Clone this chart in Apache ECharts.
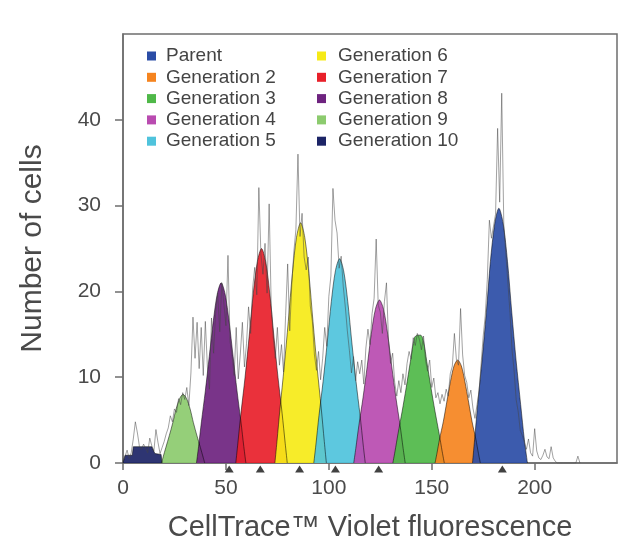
<!DOCTYPE html>
<html>
<head>
<meta charset="utf-8">
<script src="https://cdn.jsdelivr.net/npm/echarts@6/dist/echarts.min.js"></script>
<style>
  html, body { margin: 0; padding: 0; background: #fff; }
  #chart { width: 623px; height: 550px; }
</style>
</head>
<body>
<div id="chart"></div>
<script>
// legend / series names, left column then right column
const namesLeft = ['Parent', 'Generation 2', 'Generation 3', 'Generation 4', 'Generation 5']
const namesRight = ['Generation 6', 'Generation 7', 'Generation 8', 'Generation 9', 'Generation 10']

const peakColors = {
  'Parent': '#2b4da6',
  'Generation 2': '#f5841f',
  'Generation 3': '#4fb848',
  'Generation 4': '#b94bb0',
  'Generation 5': '#4fc3dc',
  'Generation 6': '#f6ea17',
  'Generation 7': '#e8202a',
  'Generation 8': '#6e237f',
  'Generation 9': '#8ccb6e',
  'Generation 10': '#1c2466'
}

// fitted generation peaks, [fluorescence, cells]
const gen10 = [[0, 0], [1, 0.9], [4.5, 0.9], [5, 1.9], [14, 1.9], [15.5, 1.1], [18.5, 1], [19, 0]]
const gen9 = [[18.7, 0], [19.5, 0.7], [20.8, 1.8], [22.5, 3.2], [24.2, 4.7], [25.8, 6.3], [27.5, 7.5], [29.2, 8],
  [30.9, 7.5], [32.6, 6.3], [34.2, 4.7], [35.9, 3.2], [37.6, 1.8], [38.9, 0.7], [39.7, 0]]
const gen8 = [[35.7, 0], [36.7, 1.9], [38.1, 4.8], [40, 8.4], [41.9, 12.4], [43.9, 16.6], [45.8, 19.7], [47.7, 21],
  [49.6, 19.7], [51.5, 16.6], [53.5, 12.4], [55.4, 8.4], [57.3, 4.8], [58.7, 1.9], [59.7, 0]]
const gen7 = [[54.8, 0], [55.8, 2.3], [57.3, 5.8], [59.3, 10], [61.3, 14.8], [63.3, 19.8], [65.3, 23.5], [67.3, 25],
  [69.3, 23.5], [71.3, 19.8], [73.3, 14.8], [75.3, 10], [77.3, 5.8], [78.8, 2.3], [79.8, 0]]
const gen6 = [[73.8, 0], [74.8, 2.5], [76.3, 6.4], [78.3, 11.2], [80.3, 16.5], [82.3, 22.1], [84.3, 26.3], [86.3, 28],
  [88.3, 26.3], [90.3, 22.1], [92.3, 16.5], [94.3, 11.2], [96.3, 6.4], [97.8, 2.5], [98.8, 0]]
const gen5 = [[92.7, 0], [93.7, 2.1], [95.2, 5.5], [97.2, 9.5], [99.2, 14], [101.2, 18.8], [103.2, 22.4], [105.2, 23.8],
  [107.2, 22.4], [109.2, 18.8], [111.2, 14], [113.2, 9.5], [115.2, 5.5], [116.7, 2.1], [117.7, 0]]
const gen4 = [[112.1, 0], [113.1, 1.7], [114.6, 4.4], [116.6, 7.6], [118.6, 11.2], [120.6, 15], [122.6, 17.9], [124.6, 19],
  [126.6, 17.9], [128.6, 15], [130.6, 11.2], [132.6, 7.6], [134.6, 4.4], [136.1, 1.7], [137.1, 0]]
const gen3 = [[131.1, 0], [132.1, 1.3], [133.6, 3.4], [135.6, 6.0], [137.6, 8.8], [139.6, 11.8], [141.6, 14.6], [143, 14.9],
  [144.6, 14.9], [146, 14.2], [147.6, 11.8], [149.6, 8.8], [151.6, 6.0], [153.6, 3.4], [155.1, 1.3], [156.1, 0]]
const gen2 = [[151.6, 0], [152.5, 1.1], [153.8, 2.8], [155.6, 4.8], [157.3, 7.1], [159.1, 9.5], [160.8, 11.3], [162.6, 12],
  [164.4, 11.3], [166.1, 9.5], [167.9, 7.1], [169.6, 4.8], [171.4, 2.8], [172.7, 1.1], [173.6, 0]]
const parent = [[169.8, 0], [170.8, 2.7], [172.3, 6.8], [174.4, 11.9], [176.5, 17.5], [178.5, 23.5], [180.6, 27.9], [182.6, 29.7],
  [184.7, 27.9], [186.8, 23.5], [188.9, 17.5], [191, 11.9], [193.2, 6.8], [195, 2.7], [196.5, 0]]

// raw histogram (grey trace), one value per fluorescence unit from 0
const histX = []
for (let i = 0; i <= 222; i++) histX.push(i)
const histY = [
  0.3, 0.8, 1.5, 0.5, 1.2, 2.8, 4.8, 3.5, 1.9, 1.6,
  2.2, 1.7, 1.2, 2.9, 2.0, 1.4, 3.9, 2.4, 1.1, 1.8,
  2.5, 3.4, 4.1, 5.5, 4.8, 6.3, 5.9, 7.5, 6.8, 8.2,
  7.4, 8.8, 6.7, 10.5, 17.0, 12.2, 16.4, 11.0, 15.8, 10.2,
  16.5, 11.2, 8.6, 16.9, 12.8, 17.5, 19.8, 15.3, 21.0, 18.6,
  16.0, 24.2, 14.2, 12.5, 10.2, 15.8, 9.8, 12.7, 16.4, 11.2,
  13.9, 18.2, 15.1, 20.4, 22.8, 19.6, 32.1, 24.3, 22.0, 25.6,
  19.8, 30.2, 18.4, 14.6, 12.2, 15.8, 11.4, 13.8, 10.6, 17.2,
  23.2, 15.4, 20.8, 24.6, 27.2, 36.0, 26.4, 29.1, 24.0, 22.5,
  24.0, 18.3, 16.5, 12.6, 10.8, 13.0, 9.7, 12.2, 15.8, 13.6,
  19.4, 21.8, 32.0, 28.3, 26.8, 22.7, 24.1, 20.6, 18.2, 15.4,
  13.1, 10.5, 12.4, 9.6, 11.8, 10.4, 12.0, 9.2, 13.4, 15.6,
  13.8, 17.4, 19.2, 26.1, 18.4, 17.6, 15.1, 18.8, 21.0, 14.2,
  11.6, 12.8, 9.4, 7.8, 9.6, 8.2, 10.4, 9.1, 11.6, 13.0,
  12.1, 14.6, 13.7, 15.1, 14.4, 13.2, 14.8, 11.9, 10.7, 12.0,
  8.8, 9.9, 7.6, 8.2, 6.9, 8.0, 7.2, 8.6, 7.8, 10.4,
  11.3, 15.1, 12.0, 11.4, 18.0, 12.6, 10.2, 9.4, 7.6, 8.5,
  6.4, 5.2, 6.8, 8.4, 11.6, 14.8, 17.2, 21.4, 28.3, 26.2,
  27.6, 29.0, 39.0, 30.4, 43.1, 27.8, 24.4, 21.0, 17.6, 13.2,
  10.8, 7.4, 6.0, 3.8, 3.2, 2.4, 1.6, 2.8, 1.2, 0.8,
  4.0, 1.4, 0.6, 0.4, 0.9, 1.6, 0.7, 0.5, 1.9, 0.6,
  0.2, 0, 0, 0, 0, 0, 0, 0, 0, 0,
  0, 0.8, 0
]

// black markers under the axis
const markerX = [51.6, 66.7, 85.8, 103.2, 124.2, 184.3]

const xTicks = [0, 50, 100, 150, 200]
const yTicks = [0, 10, 20, 30, 40]

const peaks = [
  ['Generation 10', gen10, false],
  ['Generation 9', gen9, true],
  ['Generation 8', gen8, true],
  ['Generation 7', gen7, true],
  ['Generation 6', gen6, true],
  ['Generation 5', gen5, true],
  ['Generation 4', gen4, true],
  ['Generation 3', gen3, true],
  ['Generation 2', gen2, true],
  ['Parent', parent, true]
]

const font = "'Liberation Sans', Arial, sans-serif"
const axisColor = '#6e6e6e'
const labelColor = '#4a4a4a'

const chart = echarts.init(document.getElementById('chart'))

const series = peaks.map(([name, data, smooth]) => ({
  name,
  type: 'line',
  data,
  smooth: smooth ? 0.3 : false,
  symbol: 'none',
  color: peakColors[name],
  itemStyle: { color: peakColors[name] },
  lineStyle: { color: 'rgba(0,0,0,0.5)', width: 1 },
  areaStyle: { color: peakColors[name], opacity: 0.92 },
  z: 2
}))

series.push({
  name: 'histogram',
  type: 'line',
  data: histX.map((x, i) => [x, histY[i]]),
  symbol: 'none',
  lineStyle: { color: 'rgba(70,70,70,0.5)', width: 1 },
  z: 3
})

series.push({
  name: 'markers',
  type: 'scatter',
  data: markerX.map(x => [x, 0]),
  symbol: 'triangle',
  symbolSize: [9, 7],
  symbolOffset: [0, 6],
  itemStyle: { color: '#111' },
  clip: false,
  z: 4
})

const legendBase = {
  orient: 'vertical',
  icon: 'rect',
  itemWidth: 9,
  itemHeight: 9,
  itemGap: 1.3,
  itemStyle: { borderWidth: 0 },
  selectedMode: false
}
const legendText = { fontFamily: font, fontSize: 19, lineHeight: 20, color: '#444' }

chart.setOption({
  animation: false,
  backgroundColor: '#fff',
  grid: {
    left: 123,
    right: 6,
    top: 34,
    bottom: 87,
    show: true,
    borderColor: axisColor,
    borderWidth: 1.5
  },
  legend: [
    Object.assign({}, legendBase, {
      data: namesLeft, left: 142, top: 41,
      textStyle: Object.assign({ padding: [0, 0, 0, 5] }, legendText)
    }),
    Object.assign({}, legendBase, {
      data: namesRight, left: 312, top: 41,
      textStyle: Object.assign({ padding: [0, 0, 0, 7] }, legendText)
    })
  ],
  xAxis: {
    type: 'value',
    min: 0,
    max: 240,
    interval: 50,
    name: 'CellTrace\u2122 Violet fluorescence',
    nameLocation: 'middle',
    nameGap: 50,
    nameTextStyle: { fontFamily: font, fontSize: 29, color: labelColor },
    axisLine: { lineStyle: { color: axisColor, width: 1.5 } },
    axisTick: { show: true, length: 7, customValues: xTicks, lineStyle: { color: axisColor, width: 1.5 } },
    axisLabel: { customValues: xTicks, margin: 15, fontFamily: font, fontSize: 21, color: labelColor },
    splitLine: { show: false }
  },
  yAxis: {
    type: 'value',
    min: 0,
    max: 50,
    interval: 10,
    name: 'Number of cells',
    nameLocation: 'middle',
    nameGap: 75,
    nameTextStyle: { fontFamily: font, fontSize: 30, color: labelColor },
    axisLine: { show: true, lineStyle: { color: axisColor, width: 1.5 } },
    axisTick: { show: true, length: 8, customValues: yTicks, lineStyle: { color: axisColor, width: 1.5 } },
    axisLabel: { customValues: yTicks, margin: 22, fontFamily: font, fontSize: 21, color: labelColor },
    splitLine: { show: false }
  },
  series
})
</script>
</body>
</html>
